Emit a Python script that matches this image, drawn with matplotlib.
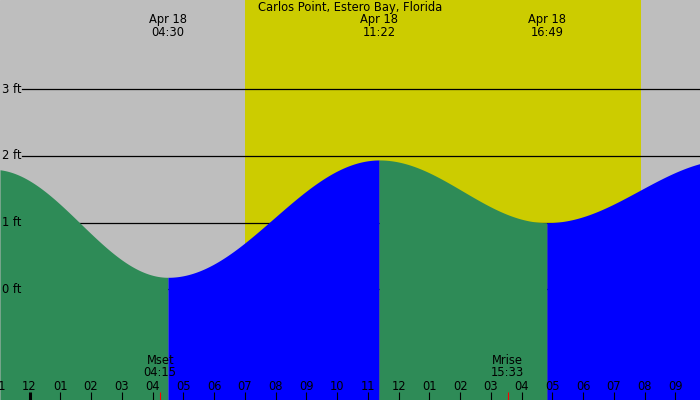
#!/usr/bin/env python3
"""Tide chart for Carlos Point, Estero Bay, Florida (Apr 18)."""

import matplotlib

matplotlib.use("Agg")
import matplotlib.pyplot as plt
import numpy as np

# tide extremes, hours from midnight Apr 18 (first/last are off-screen)
tide_times = [-1.2, 4.5, 11.367, 16.817, 22.8]
tide_heights = [1.80, 0.18, 1.94, 1.00, 1.95]
tide_labels = ["", "04:30", "11:22", "16:49", ""]
tide_date = "Apr 18"

sunrise, sunset = 7.0, 19.88
moon_times = [4.25, 15.55]
moon_names = ["Mset", "Mrise"]
moon_labels = ["04:15", "15:33"]

hours = list(range(-1, 22))
hour_labels = ["11", "12", "01", "02", "03", "04", "05", "06", "07", "08", "09", "10",
               "11", "12", "01", "02", "03", "04", "05", "06", "07", "08", "09"]
levels = [0, 1, 2, 3]
level_labels = ["0 ft", "1 ft", "2 ft", "3 ft"]

TITLE = "Carlos Point, Estero Bay, Florida"

GREY = "#bebebe"
DAY = "#cccc00"
FALL = "#2e8b57"
RISE = "#0000ff"
FS = 8.3

W, H = 700, 400
PX_HOUR = 30.76
X0 = 29.5            # pixel of midnight
PX_FT = 66.67
Y0 = 289.3           # pixel (from top) of 0 ft


def tide_curve(t):
    h = np.zeros_like(t)
    for i in range(len(tide_times) - 1):
        t0, t1 = tide_times[i], tide_times[i + 1]
        h0, h1 = tide_heights[i], tide_heights[i + 1]
        m = (t >= t0) & (t <= t1)
        f = (t[m] - t0) / (t1 - t0)
        h[m] = h0 + (h1 - h0) * (1 - np.cos(np.pi * f)) / 2
    return h


def main():
    fig = plt.figure(figsize=(W / 100, H / 100), dpi=100)
    ax = fig.add_axes([0, 0, 1, 1])
    xmin, xmax = -X0 / PX_HOUR, (W - X0) / PX_HOUR
    ytop, ybot = Y0 / PX_FT, -(H - Y0) / PX_FT
    ax.set_xlim(xmin, xmax)
    ax.set_ylim(ybot, ytop)
    ax.axis("off")
    ax.add_patch(plt.Rectangle((xmin, ybot), xmax - xmin, ytop - ybot, color=GREY, zorder=0))

    ax.axvspan(sunrise, sunset, color=DAY, lw=0, zorder=1)

    for lv, lab in zip(levels, level_labels):
        ax.axhline(lv, xmin=22 / W, xmax=1, color="black", lw=0.9, zorder=2)
        ax.text(2 / PX_HOUR + xmin, lv, lab, ha="left", va="center", fontsize=FS, zorder=6)

    # tide fill: green while falling, blue while rising
    for i in range(len(tide_times) - 1):
        t0, t1 = max(tide_times[i], xmin), min(tide_times[i + 1], xmax)
        if t1 <= t0:
            continue
        t = np.linspace(t0, t1, 400)
        col = RISE if tide_heights[i + 1] > tide_heights[i] else FALL
        ax.fill_between(t, ybot, tide_curve(t), color=col, lw=0, zorder=3)

    xt = ax.get_xaxis_transform()
    for i, lab in enumerate(tide_labels):
        if not lab:
            continue
        ax.text(tide_times[i], 1 - 19 / H, tide_date, transform=xt, ha="center", va="center",
                fontsize=FS, zorder=6)
        ax.text(tide_times[i], 1 - 32 / H, lab, transform=xt, ha="center", va="center",
                fontsize=FS, zorder=6)

    ax.text((350 - X0) / PX_HOUR, 1 - 7 / H, TITLE, transform=xt, ha="center", va="center",
            fontsize=FS, zorder=6)

    for hr, lab in zip(hours, hour_labels):
        lw = 2.2 if hr % 24 == 0 else 0.8
        ax.vlines(hr, 0, 8 / H, transform=xt, color="black", lw=lw, zorder=5)
        ax.text(hr, 1 - 386 / H, lab, transform=xt, ha="center", va="center", fontsize=FS, zorder=6)

    for t, name, lab in zip(moon_times, moon_names, moon_labels):
        ax.vlines(t, 0, 8 / H, transform=xt, color="red", lw=0.8, zorder=5)
        ax.text(t, 1 - 361 / H, name, transform=xt, ha="center", va="center", fontsize=FS, zorder=6)
        ax.text(t, 1 - 373 / H, lab, transform=xt, ha="center", va="center", fontsize=FS, zorder=6)

    fig.savefig("out.png", dpi=100)
    plt.close(fig)


if __name__ == "__main__":
    main()
